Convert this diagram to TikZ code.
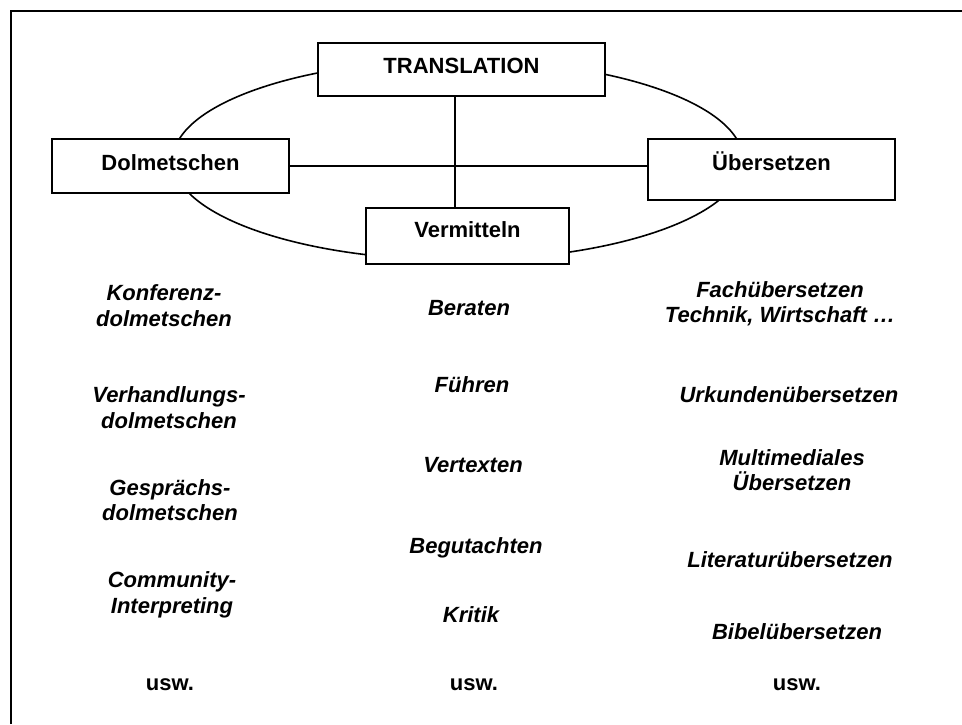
\documentclass[tikz,border=0pt]{standalone}
\usepackage{fontspec}
\setmainfont{Liberation Sans}
\begin{document}
\begin{tikzpicture}[x=1pt,y=-1pt,
  frameline/.style={line width=2pt},
  ring/.style={line width=1.6pt},
  link/.style={line width=1.6pt},
  catbox/.style={draw, line width=2pt, fill=white, inner sep=0pt,
    font=\fontsize{22}{25}\selectfont\bfseries, text height=16pt},
  item/.style={align=center, inner sep=0pt,
    font=\fontsize{22}{25.5}\selectfont\bfseries\itshape},
  etc/.style={inner sep=0pt, font=\fontsize{22}{25}\selectfont\bfseries}]
\useasboundingbox (0,0) rectangle (962,724);

% open frame (top and left edges)
\draw[frameline] (11,724) -- (11,11) -- (962,11);

% ring joining the four fields
\draw[ring] (458,160) ellipse [x radius=285, y radius=100];

% the four fields
\node[catbox, minimum width=287pt, minimum height=53pt, text depth=7.2pt] (T) at (461.5,69.5) {TRANSLATION};
\node[catbox, minimum width=237pt, minimum height=54pt, text depth=6.2pt] (D) at (170.5,166) {Dolmetschen};
\node[catbox, minimum width=247pt, minimum height=61pt, text depth=13.2pt] (U) at (771.5,169.5) {Übersetzen};
\node[catbox, minimum width=203pt, minimum height=56pt, text depth=12.2pt] (V) at (467.5,236) {Vermitteln};

% cross connections
\draw[link] ([xshift=-6.5pt]T.south) -- ([xshift=-6.5pt]T.south |- V.north);
\draw[link] (D.east) -- (D.east -| U.west);

% interpreting
\node[item] (d1) at (164,305.5) {Konferenz-\\dolmetschen};
\node[item] (d2) at (169,407.5) {Verhandlungs-\\dolmetschen};
\node[item] (d3) at (170,500) {Gesprächs-\\dolmetschen};
\node[item] (d4) at (172,595) {Community-\\Interpreting};
\node[etc]  (d5) at (170,685) {usw.};

% mediating
\node[item] (v1) at (469,308) {Beraten};
\node[item] (v2) at (472,385) {Führen};
\node[item] (v3) at (473,465) {Vertexten};
\node[item] (v4) at (476,548) {Begutachten};
\node[item] (v5) at (471,615) {Kritik};
\node[etc]  (v6) at (474,685) {usw.};

% translating
\node[item] (u1) at (780,303.5) {Fachübersetzen\\Technik, Wirtschaft …};
\node[item] (u2) at (789,395) {Urkundenübersetzen};
\node[item] (u3) at (792,470) {Multimediales\\Übersetzen};
\node[item] (u4) at (790,560) {Literaturübersetzen};
\node[item] (u5) at (797,632) {Bibelübersetzen};
\node[etc]  (u6) at (797,685) {usw.};
\end{tikzpicture}
\end{document}
